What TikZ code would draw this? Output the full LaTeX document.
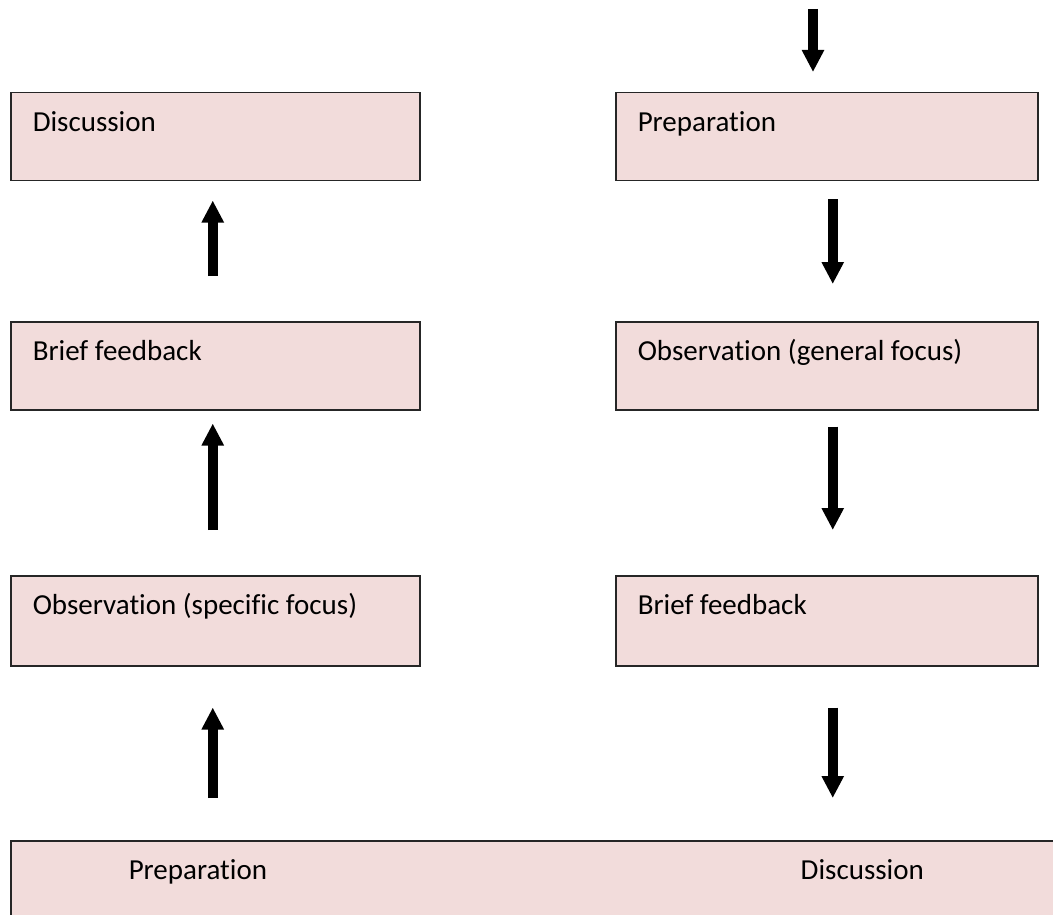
\documentclass[tikz,border=0pt]{standalone}
\usepackage{fontspec}
\setmainfont{Carlito}[Ligatures=CommonOff]
\usepackage{tikz}
\usetikzlibrary{arrows.meta}
\definecolor{stagefill}{RGB}{242, 220, 219}

\tikzset{
	stagebox/.style={draw=black!85, line width=1.5pt, fill=stagefill, anchor=north west, inner xsep=22pt, inner ysep=0pt, text height=39pt, text depth=49pt, align=flush left, font=\fontsize{29}{34}\selectfont},
	leftbox/.style={stagebox, text width=365pt},
	rightbox/.style={stagebox, text width=378pt},
	blockarrow/.style={line width=10.5pt, -{Triangle[length=22pt,width=21pt]}}
}

\begin{document}
\begin{tikzpicture}[x=1pt, y=-1pt]
	\clip (0,0) rectangle (1053,915);
	\node[leftbox] (disc) at (10,92) {Discussion};
	\node[leftbox] (bfl) at (10,321) {Brief feedback};
	\node[leftbox, text depth=51pt] (obss) at (10,575) {Observation (specific focus)};
	\node[rightbox] (prep) at (615,92) {Preparation};
	\node[rightbox] (obsg) at (615,321) {Observation (general focus)};
	\node[rightbox, text depth=51pt] (rbf) at (615,575) {Brief feedback};
	\node[stagebox, inner xsep=118pt, text width=940pt, text depth=70pt] (base) at (10,840) {\makebox[672pt][l]{Preparation}Discussion};
	\coordinate (entry) at (813,9);
	
	% right column, downwards
	\draw[blockarrow, shorten >=20pt] (entry) -- (entry |- prep.north);
	\draw[blockarrow, shorten <=18pt, shorten >=37pt] ([xshift=6pt]prep.south) -- ([xshift=6pt]obsg.north);
	\draw[blockarrow, shorten <=16pt, shorten >=45pt] ([xshift=6pt]obsg.south) -- ([xshift=6pt]rbf.north);
	\draw[blockarrow, shorten <=41pt, shorten >=42pt] ([xshift=6pt]rbf.south) -- ([xshift=6pt]rbf.south |- base.north);
	% left column, upwards
	\draw[blockarrow, shorten <=42pt, shorten >=41pt] ([xshift=-2.5pt]obss.south |- base.north) -- ([xshift=-2.5pt]obss.south);
	\draw[blockarrow, shorten <=45pt, shorten >=13pt] ([xshift=-2.5pt]obss.north) -- ([xshift=-2.5pt]bfl.south);
	\draw[blockarrow, shorten <=45pt, shorten >=19pt] ([xshift=-2.5pt]bfl.north) -- ([xshift=-2.5pt]disc.south);
\end{tikzpicture}
\end{document}
